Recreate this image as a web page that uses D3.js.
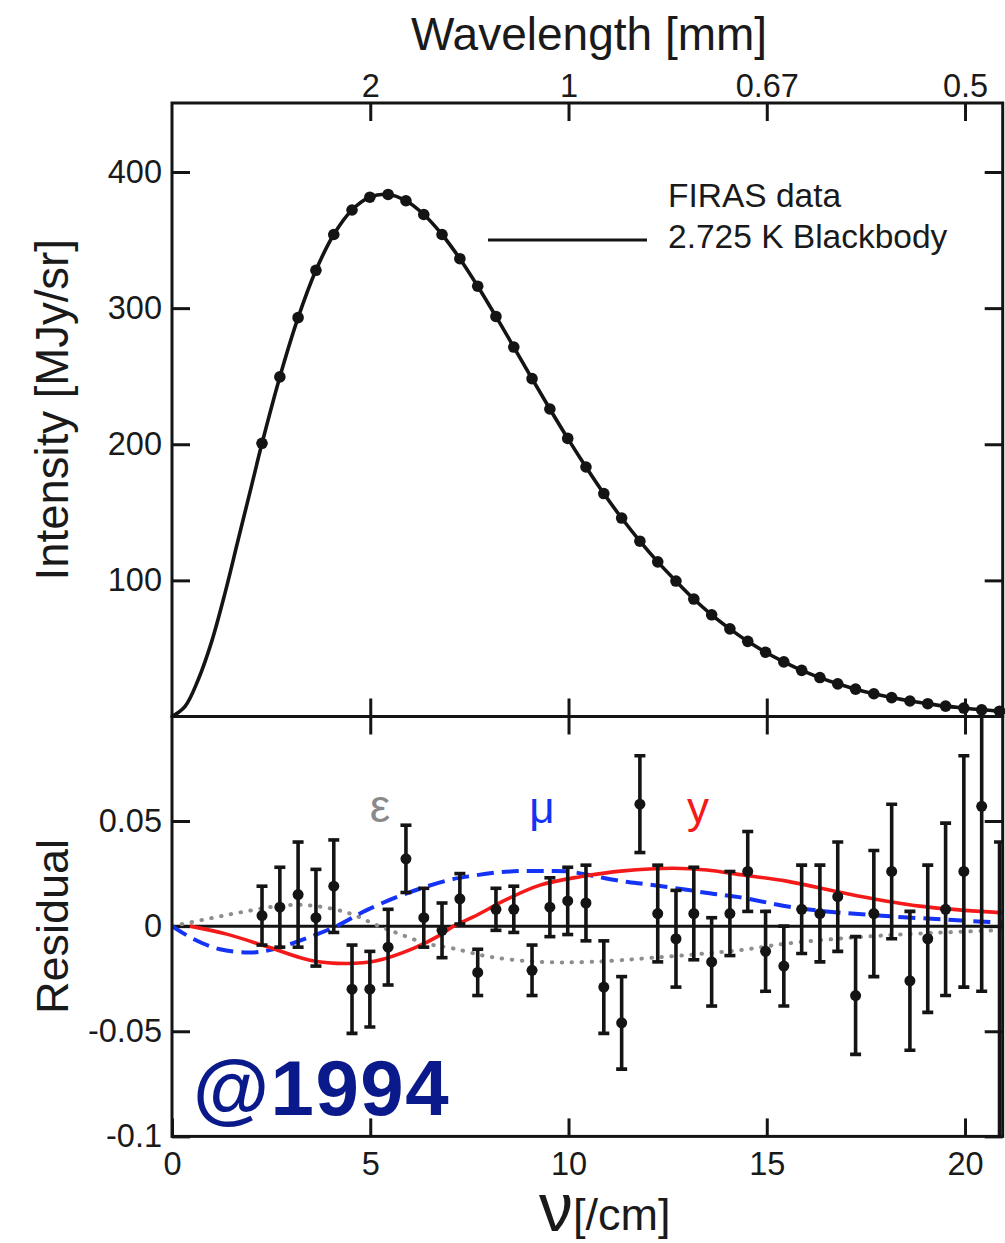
<!DOCTYPE html>
<html>
<head>
<meta charset="utf-8">
<script src="https://cdn.jsdelivr.net/npm/d3@7"></script>
<style>
body { margin: 0; background: #fff; }
text { font-family: "Liberation Sans", Arial, Helvetica, sans-serif; fill: #1a1a1a; }
</style>
</head>
<body>
<svg id="chart" width="1005" height="1243"></svg>
<script>
"use strict";

// FIRAS channels [/cm]
var nu = [2.27, 2.72, 3.18, 3.63, 4.08, 4.54, 4.99, 5.45, 5.90, 6.35, 6.81, 7.26, 7.71, 8.17,
    8.62, 9.08, 9.53, 9.98, 10.44, 10.89, 11.34, 11.80, 12.25, 12.71, 13.16, 13.61, 14.07,
    14.52, 14.97, 15.43, 15.88, 16.34, 16.79, 17.24, 17.70, 18.15, 18.61, 19.06, 19.51,
    19.97, 20.42, 20.87];
// monopole intensity [MJy/sr]
var intensity = [200.7, 249.5, 293.0, 327.8, 354.1, 372.1, 381.5, 383.5, 378.9, 368.8, 354.1,
    336.3, 316.1, 293.9, 271.4, 248.2, 225.9, 204.3, 183.3, 163.8, 145.8, 128.8, 113.6, 99.5,
    86.3, 74.7, 64.4, 55.2, 47.2, 40.1, 33.9, 28.6, 24.0, 20.1, 16.7, 13.9, 11.4, 9.4, 7.6,
    6.2, 4.9, 3.9];
// residual from the blackbody fit and its 1 sigma error
var residual = [0.005, 0.009, 0.015, 0.004, 0.019, -0.030, -0.030, -0.010, 0.032, 0.004,
    -0.002, 0.013, -0.022, 0.008, 0.008, -0.021, 0.009, 0.012, 0.011, -0.029, -0.046, 0.058,
    0.006, -0.006, 0.006, -0.017, 0.006, 0.026, -0.012, -0.019, 0.008, 0.006, 0.014, -0.033,
    0.006, 0.026, -0.026, -0.006, 0.008, 0.026, 0.057, -0.115];
var sigma = [0.014, 0.019, 0.025, 0.023, 0.022, 0.021, 0.018, 0.018, 0.016, 0.014, 0.013,
    0.012, 0.011, 0.010, 0.011, 0.012, 0.014, 0.016, 0.018, 0.022, 0.022, 0.023, 0.023, 0.023,
    0.022, 0.021, 0.020, 0.019, 0.019, 0.019, 0.021, 0.023, 0.026, 0.028, 0.030, 0.032, 0.033,
    0.035, 0.041, 0.055, 0.088, 0.155];

// blackbody curve below the first channel
var bbLowNu = [0, 0.33, 0.66, 1.0, 1.34, 1.67, 2.01];
var bbLowI = [0, 7.5, 27, 55, 91, 130, 170];

// distortion shapes
var epsNu = [0, 0.96, 1.8, 2.89, 3.65, 4.49, 5.16, 5.75, 6.42, 7.09, 8.02, 9.28, 10.54, 12.22,
    14.33, 15.5, 17.18, 18.86, 20.95];
var epsVal = [0, 0.0037, 0.0068, 0.0100, 0.0095, 0.0060, 0.0005, -0.0038, -0.0083, -0.0106,
    -0.0146, -0.0170, -0.0170, -0.0149, -0.0114, -0.0083, -0.0054, -0.0035, -0.0019];
var muNu = [0, 0.53, 1.21, 2.05, 2.64, 3.31, 4.15, 4.91, 5.92, 7.0, 7.6, 8.2, 8.8, 9.4, 10.0,
    10.6, 11.3, 12.0, 12.8, 13.6, 14.3, 15.8, 17.7, 19.7, 20.95];
var muVal = [0, -0.0060, -0.0110, -0.0125, -0.0106, -0.0063, 0, 0.0076, 0.0156, 0.0220,
    0.0240, 0.0255, 0.0262, 0.0262, 0.0260, 0.0240, 0.0215, 0.0198, 0.0178, 0.0155, 0.0138,
    0.0085, 0.0052, 0.0029, 0.0016];
var yNu = [0.45, 1.38, 2.47, 3.48, 4.41, 5.16, 6.09, 6.76, 7.1, 7.6, 8.44, 9.28, 10.29, 11.38,
    12.64, 13.49, 14.33, 15.5, 17.18, 18.86, 20.95];
var yVal = [0, -0.0038, -0.0102, -0.0162, -0.0178, -0.0165, -0.0106, -0.0043, 0, 0.0044,
    0.0127, 0.0195, 0.0235, 0.0263, 0.0275, 0.0267, 0.0245, 0.0214, 0.0148, 0.0095, 0.0063];

var nuTicks = [0, 5, 10, 15, 20];
var wlTicks = [5, 10, 15, 20];
var wlLabels = ["2", "1", "0.67", "0.5"];
var intTicks = [100, 200, 300, 400];
var resTicks = [-0.1, -0.05, 0, 0.05];
var resLabels = ["-0.1", "-0.05", "0", "0.05"];

var svg = d3.select("#chart");
var left = 172, right = 1002.7;
var topY = 103, midY = 716.5, botY = 1136.4;
var ink = "#141414";

var x = d3.scaleLinear().domain([0, 20.95]).range([left, right]);
var yTop = d3.scaleLinear().domain([0, 450.7]).range([midY, topY]);
var yRes = d3.scaleLinear().domain([-0.1, 0.0997]).range([botY, midY]);

svg.append("clipPath").attr("id", "clipRes")
  .append("rect")
    .attr("x", left).attr("y", midY)
    .attr("width", right - left).attr("height", botY - midY);

function styleAxis(g) {
    g.select(".domain").remove();
    g.selectAll(".tick line").attr("stroke", ink).attr("stroke-width", 3);
    g.attr("font-size", 32.5)
        .attr("font-family", "'Liberation Sans', Arial, Helvetica, sans-serif");
    g.selectAll(".tick text").attr("fill", "#1a1a1a");
}

// ---- top panel ----
svg.append("g").attr("transform", "translate(" + left + ",0)")
    .call(d3.axisLeft(yTop).tickValues(intTicks).tickSize(-18).tickPadding(10))
    .call(styleAxis);
svg.append("g").attr("transform", "translate(" + right + ",0)")
    .call(d3.axisRight(yTop).tickValues(intTicks).tickSize(-18).tickFormat(""))
    .call(styleAxis);
svg.append("g").attr("transform", "translate(0," + topY + ")")
    .call(d3.axisTop(x).tickValues(wlTicks).tickSize(-18).tickPadding(6)
        .tickFormat(function (d, i) { return wlLabels[i]; }))
    .call(styleAxis);
svg.append("g").attr("transform", "translate(0," + midY + ")")
    .call(d3.axisBottom(x).tickValues(wlTicks).tickSize(-18).tickFormat(""))
    .call(styleAxis);

var bbPts = bbLowNu.map(function (v, i) { return [v, bbLowI[i]]; })
    .concat(nu.map(function (v, i) { return [v, intensity[i]]; }));
var bbLine = d3.line()
    .x(function (d) { return x(d[0]); })
    .y(function (d) { return yTop(d[1]); })
    .curve(d3.curveCatmullRom);
svg.append("path")
    .attr("d", bbLine(bbPts))
    .attr("fill", "none")
    .attr("stroke", ink)
    .attr("stroke-width", 3.6);
svg.append("g").selectAll("circle")
  .data(nu)
  .enter()
  .append("circle")
    .attr("cx", function (d) { return x(d); })
    .attr("cy", function (d, i) { return yTop(intensity[i]); })
    .attr("r", 5.8)
    .attr("fill", ink);

// legend
svg.append("line")
    .attr("x1", 488).attr("x2", 647).attr("y1", 240).attr("y2", 240)
    .attr("stroke", ink).attr("stroke-width", 3.2);
svg.append("text").attr("x", 668).attr("y", 207).attr("font-size", 33.5).text("FIRAS data");
svg.append("text").attr("x", 668).attr("y", 248).attr("font-size", 33.5).text("2.725 K Blackbody");

// ---- residual panel ----
svg.append("g").attr("transform", "translate(" + left + ",0)")
    .call(d3.axisLeft(yRes).tickValues(resTicks).tickSize(-18).tickPadding(10)
        .tickFormat(function (d, i) { return resLabels[i]; }))
    .call(styleAxis);
svg.append("g").attr("transform", "translate(" + right + ",0)")
    .call(d3.axisRight(yRes).tickValues(resTicks).tickSize(-18).tickFormat(""))
    .call(styleAxis);
svg.append("g").attr("transform", "translate(0," + midY + ")")
    .call(d3.axisTop(x).tickValues(wlTicks).tickSize(-18).tickFormat(""))
    .call(styleAxis);
svg.append("g").attr("transform", "translate(0," + botY + ")")
    .call(d3.axisBottom(x).tickValues(nuTicks).tickSize(-18).tickPadding(16))
    .call(styleAxis);

var res = svg.append("g").attr("clip-path", "url(#clipRes)");

res.append("line")
    .attr("x1", left).attr("x2", right)
    .attr("y1", yRes(0)).attr("y2", yRes(0))
    .attr("stroke", ink).attr("stroke-width", 3);

function curveOf(xs, ys) {
    return d3.line()
        .x(function (d) { return x(d); })
        .y(function (d, i) { return yRes(ys[i]); })
        .curve(d3.curveCatmullRom)(xs);
}
res.append("path").attr("d", curveOf(epsNu, epsVal))
    .attr("fill", "none").attr("stroke", "#8e8e8e").attr("stroke-width", 4)
    .attr("stroke-linecap", "round").attr("stroke-dasharray", "0.5,9.5");
res.append("path").attr("d", curveOf(muNu, muVal))
    .attr("fill", "none").attr("stroke", "#1433f5").attr("stroke-width", 4)
    .attr("stroke-dasharray", "17,8");
res.append("path").attr("d", curveOf(yNu, yVal))
    .attr("fill", "none").attr("stroke", "#f41a1a").attr("stroke-width", 3.6);

var bars = res.append("g").selectAll("g")
  .data(nu)
  .enter()
  .append("g");
bars.append("line")
    .attr("x1", function (d) { return x(d); })
    .attr("x2", function (d) { return x(d); })
    .attr("y1", function (d, i) { return yRes(residual[i] + sigma[i]); })
    .attr("y2", function (d, i) { return yRes(residual[i] - sigma[i]); })
    .attr("stroke", ink).attr("stroke-width", 3.6);
[1, -1].forEach(function (s) {
    bars.append("line")
        .attr("x1", function (d) { return x(d) - 5.5; })
        .attr("x2", function (d) { return x(d) + 5.5; })
        .attr("y1", function (d, i) { return yRes(residual[i] + s * sigma[i]); })
        .attr("y2", function (d, i) { return yRes(residual[i] + s * sigma[i]); })
        .attr("stroke", ink).attr("stroke-width", 3.6);
});
bars.append("circle")
    .attr("cx", function (d) { return x(d); })
    .attr("cy", function (d, i) { return yRes(residual[i]); })
    .attr("r", 5.5)
    .attr("fill", ink);

// curve labels
svg.append("text").attr("x", 380).attr("y", 822).attr("text-anchor", "middle")
    .attr("font-family", "'Liberation Serif', 'Times New Roman', serif")
    .attr("font-size", 46).style("fill", "#8a8a8a").text("ε");
svg.append("text").attr("x", 542).attr("y", 823).attr("text-anchor", "middle")
    .attr("font-size", 44).style("fill", "#1433f5").text("μ");
svg.append("text").attr("x", 698).attr("y", 823).attr("text-anchor", "middle")
    .attr("font-size", 44).style("fill", "#f41a1a").text("y");

// frames
[[topY, midY], [midY, botY]].forEach(function (p) {
    svg.append("rect")
        .attr("x", left).attr("y", p[0])
        .attr("width", right - left).attr("height", p[1] - p[0])
        .attr("fill", "none").attr("stroke", ink).attr("stroke-width", 3);
});

// axis titles
svg.append("text").attr("x", 589).attr("y", 50).attr("text-anchor", "middle")
    .attr("font-size", 46).text("Wavelength [mm]");
svg.append("text").attr("transform", "translate(68," + ((topY + midY) / 2) + ") rotate(-90)")
    .attr("text-anchor", "middle").attr("font-size", 45.5).text("Intensity [MJy/sr]");
svg.append("text").attr("transform", "translate(68," + ((midY + botY) / 2) + ") rotate(-90)")
    .attr("text-anchor", "middle").attr("font-size", 45).text("Residual");
svg.append("text").attr("x", 573).attr("y", 1231).attr("text-anchor", "end")
    .attr("font-family", "'Liberation Serif', 'Times New Roman', serif")
    .attr("font-size", 68).text("ν");
svg.append("text").attr("x", 573).attr("y", 1230).attr("font-size", 45).text("[/cm]");

svg.append("text").attr("x", 193).attr("y", 1115)
    .attr("font-family", "'DejaVu Sans Condensed', 'DejaVu Sans', sans-serif")
    .attr("font-weight", "bold").attr("font-size", 78).attr("letter-spacing", 1.5)
    .style("fill", "#0b1a8a").text("@1994");
</script>
</body>
</html>
